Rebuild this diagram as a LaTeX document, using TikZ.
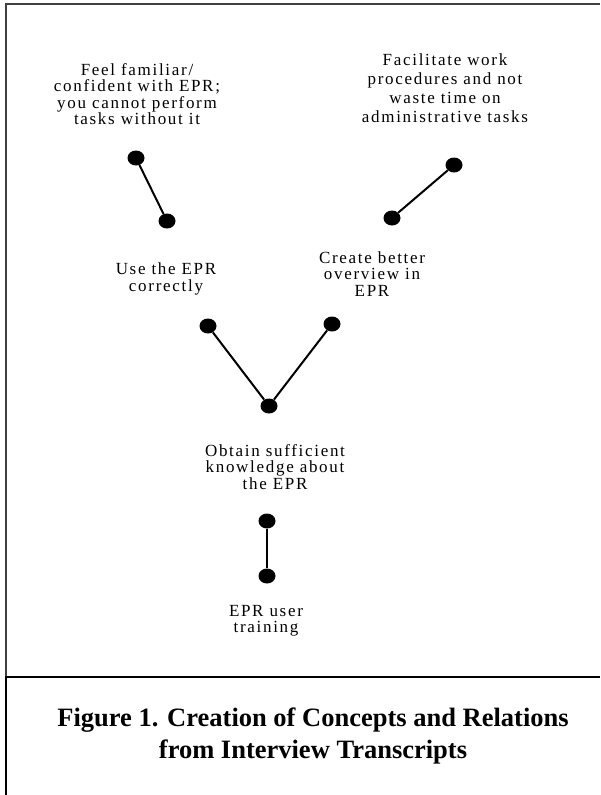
\documentclass[tikz,border=0pt]{standalone}
\usepackage{fontspec}
\setmainfont{Liberation Serif}
\newfontfamily\conceptfont[LetterSpace=10]{Liberation Serif}
\usetikzlibrary{shapes.geometric}
\tikzset{
    dot/.style={ellipse, fill, inner sep=0pt, minimum width=17pt, minimum height=15pt}, % 概念的圆点
    concept/.style={align=center, inner sep=0pt, font=\conceptfont\fontsize{17}{16.5}\selectfont}, % 概念文字
    link/.style={line width=2pt} % 概念之间的连线
}
\begin{document}
\begin{tikzpicture}[x=1pt, y=-1pt]

    \def\xl{6} \def\xr{600} \def\ytop{4} \def\ysep{677} \def\ybot{795}
    \useasboundingbox (0,0) rectangle (\xr,\ybot);

    \draw[black!75, line width=1.3pt] (\xl,\ysep) -- (\xl,\ytop) -- (\xr,\ytop);
    \draw[line width=2pt] (\xl,\ybot) -- (\xl,\ysep) -- (\xr,\ysep);

    \node[concept] (feel) at (137,94) {Feel familiar/\\confident with EPR;\\you cannot perform\\tasks without it};
    \node[concept] (facil) at (445,88) {Facilitate work\\[2.5pt]procedures and not\\[2.5pt]waste time on\\[2.5pt]administrative tasks};
    \node[concept] (use) at (166,279) {Use the EPR\\correctly};
    \node[concept] (create) at (372,274) {Create better\\overview in\\EPR};
    \node[concept] (obtain) at (275,467) {Obtain sufficient\\knowledge about\\the EPR};
    \node[concept] (train) at (266,621) {EPR user\\training};

    \node[dot] (l1) at (136,158) {};
    \node[dot] (l2) at (167,221) {};
    \node[dot] (r1) at (454,165) {};
    \node[dot] (r2) at (392,218) {};
    \node[dot] (vl) at (208,326) {};
    \node[dot] (vr) at (332,324) {};
    \node[dot] (vb) at (269,406) {};
    \node[dot] (t1) at (267,521) {};
    \node[dot] (t2) at (267,576) {};

    \draw[link] (l1) -- (l2);
    \draw[link] (r1) -- (r2);
    \draw[link] (vl) -- (vb) -- (vr);
    \draw[link] (t1) -- (t2);

    \node[align=center, font=\bfseries\fontsize{26.5}{32}\selectfont] (caption) at (313,736) {Figure 1. Creation of Concepts and Relations\\from Interview Transcripts};
\end{tikzpicture}
\end{document}
